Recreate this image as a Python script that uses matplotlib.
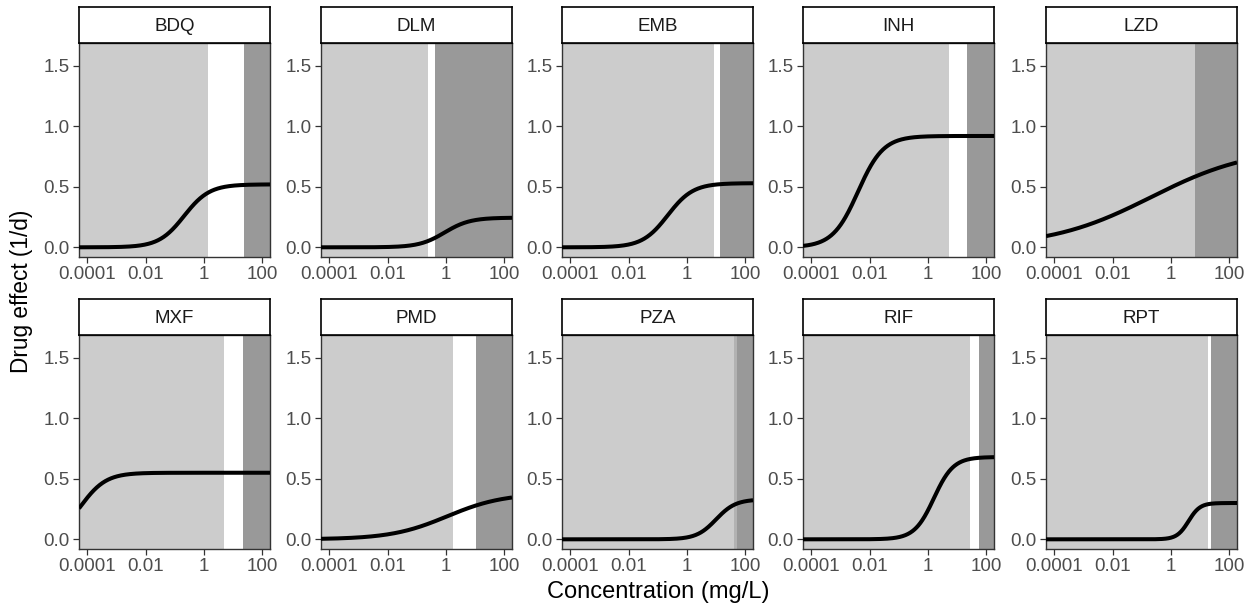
#
# Concentration-effect curves for ten TB drugs, one panel per drug,
# with the sub-effective range (light) and the toxic range (dark) shaded
#

import numpy as np
import matplotlib
matplotlib.use('Agg')
from matplotlib import pyplot as plt

plt.rcParams['font.family'] = ['Liberation Sans', 'DejaVu Sans']

# =========================================================================

drugs = ['BDQ', 'DLM', 'EMB', 'INH', 'LZD', 'MXF', 'PMD', 'PZA', 'RIF', 'RPT']

# sigmoid Emax parameters (1/d, mg/L, -)
emax = [0.52, 0.245, 0.53, 0.92, 0.83, 0.55, 0.38, 0.33, 0.68, 0.30]
ec50 = [0.21, 0.9, 0.22, 0.004, 0.21, 6e-5, 1.1, 10.0, 1.6, 4.0]
hill = [1.0, 1.0, 1.0, 1.0, 0.25, 1.0, 0.45, 1.3, 1.3, 2.2]

# upper end of the light band and lower end of the dark band (mg/L)
light_end = [1.35, 0.24, 8.3, 5.2, 6.6, 4.8, 1.8, 54.0, 27.0, 18.0]
dark_start = [24.0, 0.42, 13.4, 21.4, 6.9, 21.5, 10.6, 40.0, 57.0, 23.0]

xticks = [1e-4, 1e-2, 1, 100]
xticklabels = ['0.0001', '0.01', '1', '100']
yticks = [0.0, 0.5, 1.0, 1.5]
yticklabels = ['0.0', '0.5', '1.0', '1.5']

# =========================================================================

W, H = 1255, 611
fig = plt.figure(figsize=(W / 100, H / 100), dpi=100)
fig.patch.set_facecolor('white')

xlim = (10**-4.284, 10**2.264)
ylim = (-0.08, 1.688)
conc = np.logspace(np.log10(xlim[0]), np.log10(xlim[1]), 400)

col_left = [79, 321, 562, 803, 1046]
pan_w = 191
row_top = [43, 335]
pan_h = 214
strip_h = 36
tick_col = '#4d4d4d'
frame_col = '#333333'

def rect(x, y, w, h):
  return [x / W, 1 - (y + h) / H, w / W, h / H]

for k, name in enumerate(drugs):
  r, c = divmod(k, 5)
  x0, y0 = col_left[c], row_top[r]

  ax = fig.add_axes(rect(x0, y0, pan_w, pan_h))
  ax.set_xscale('log')
  ax.set_xlim(*xlim)
  ax.set_ylim(*ylim)

  ax.axvspan(dark_start[k], 1e6, color='#999999', lw=0, zorder=0)
  ax.axvspan(1e-8, light_end[k], color='#bbbbbb', alpha=0.75, lw=0, zorder=1)

  e = emax[k] * conc**hill[k] / (ec50[k]**hill[k] + conc**hill[k])
  ax.plot(conc, e, color='black', lw=2.9, solid_capstyle='butt', zorder=3)

  ax.set_xticks(xticks)
  ax.set_xticklabels(xticklabels)
  ax.xaxis.set_minor_locator(matplotlib.ticker.NullLocator())
  ax.set_yticks(yticks)
  ax.set_yticklabels(yticklabels)
  ax.tick_params(length=4.2, width=0.9, color=frame_col, labelcolor=tick_col,
                 labelsize=13.5, pad=2.5)
  for s in ax.spines.values():
    s.set_color(frame_col)
    s.set_linewidth(1.0)

  st = fig.add_axes(rect(x0, y0 - strip_h, pan_w, strip_h))
  st.set_xticks([])
  st.set_yticks([])
  st.set_facecolor('white')
  for s in st.spines.values():
    s.set_color('black')
    s.set_linewidth(1.2)
  st.text(0.5, 0.47, name, ha='center', va='center', fontsize=13.5,
          color='#1a1a1a', transform=st.transAxes)

fig.text(22 / W, 1 - 291 / H, 'Drug effect (1/d)', rotation=90,
         ha='center', va='center', fontsize=16.3)
fig.text(658 / W, 1 - 592 / H, 'Concentration (mg/L)',
         ha='center', va='center', fontsize=17)

plt.savefig('out.png', dpi=100)
